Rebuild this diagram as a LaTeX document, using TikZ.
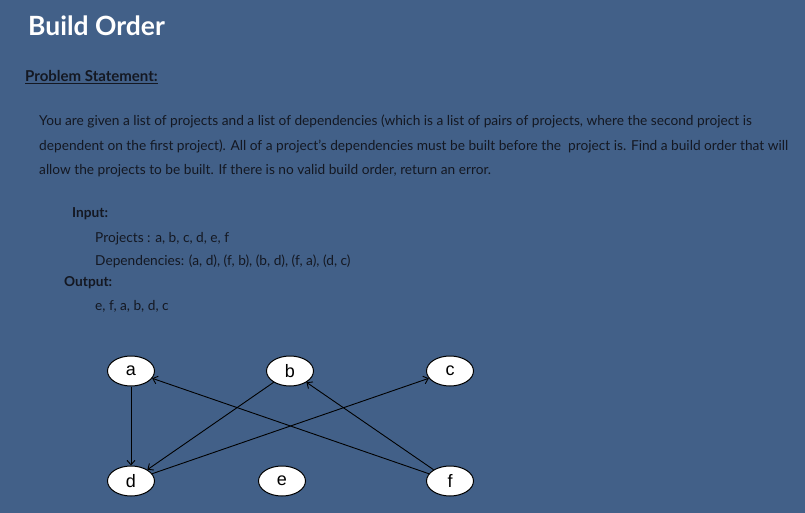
\documentclass[tikz,border=0pt]{standalone}
\usepackage{fontspec}
\setmainfont{Lato}
\newfontfamily\labelfont{Liberation Sans}
\usepackage{xcolor}
\usetikzlibrary{shapes.geometric, arrows.meta}
\definecolor{slate}{RGB}{66,96,136}
\definecolor{ink}{RGB}{20,24,34}
\tikzset{
	line/.style={anchor=base west, inner sep=0, color=ink, font=\fontsize{13.7}{16}\selectfont},
	proj/.style={ellipse, draw=black, fill=white, line width=1pt, minimum width=47, minimum height=30, inner sep=0, font=\labelfont\fontsize{18}{20}\selectfont},
	dep/.style={-{Straight Barb[length=4.5pt,width=8pt]}, line width=0.9pt, color=black}
}
\begin{document}
\begin{tikzpicture}[x=1pt,y=-1pt]
		\fill [color=slate] (0,0) rectangle (805,513);
		\node [anchor=base west, inner sep=0, color=white, font=\fontsize{26.5}{30}\selectfont\bfseries] (title) at (28,36) {Build Order};
		\node [line, font=\fontsize{15}{18}\selectfont\bfseries] (stmt) at (25,82) {\underline{Problem Statement:}};
		\node [line] (p1) at (39,126) {You are given a list of projects and a list of dependencies (which is a list of pairs of projects, where the second project is};
		\node [line] (p2) at (39,151) {dependent on the first project). All of a project's dependencies must be built before the\ \ project is. Find a build order that will};
		\node [line] (p3) at (39,175) {allow the projects to be built. If there is no valid build order, return an error.};
		\node [line, font=\fontsize{13.7}{16}\selectfont\bfseries] (in) at (72,217) {Input:};
		\node [line] (projs) at (95,242) {Projects : a, b, c, d, e, f};
		\node [line] (deps) at (95,265) {Dependencies: (a, d), (f, b), (b, d), (f, a), (d, c)};
		\node [line, font=\fontsize{13.7}{16}\selectfont\bfseries] (out) at (64,286) {Output:};
		\node [line] (order) at (95,310) {e, f, a, b, d, c};
		\node [proj] (a) at (131,371) {a};
		\node [proj] (b) at (290,371) {b};
		\node [proj] (c) at (450,371) {c};
		\node [proj] (d) at (131,481) {d};
		\node [proj] (e) at (282,481) {e};
		\node [proj] (f) at (450,481) {f};
		\draw [dep] (a) -- (d);
		\draw [dep] (b) -- (d);
		\draw [dep] (d) -- (c);
		\draw [dep] (f) -- (a);
		\draw [dep] (f) -- (b);
	\end{tikzpicture}
\end{document}
